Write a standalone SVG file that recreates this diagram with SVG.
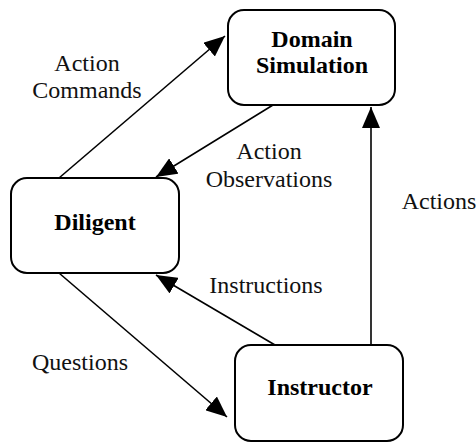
<svg xmlns="http://www.w3.org/2000/svg" width="476" height="443" viewBox="0 0 476 443">
  <style>
    .box { fill: #fff; stroke: #000; stroke-width: 2; }
    .node-label { font-family: 'Liberation Serif', Tinos, 'Times New Roman', serif; font-weight: bold; font-size: 24px; text-anchor: middle; fill: #000; }
    .edge { stroke: #000; stroke-width: 1.6; fill: none; marker-end: url(#arrow); }
    .edge-label { font-family: 'Liberation Serif', Tinos, 'Times New Roman', serif; font-size: 24px; text-anchor: middle; fill: #111; }
  </style>
  <defs>
    <marker id="arrow" viewBox="0 0 21 18" refX="21" refY="9" markerWidth="21" markerHeight="18" markerUnits="userSpaceOnUse" orient="auto">
      <path d="M0,0 L21,9 L0,18 Z" fill="#000"/>
    </marker>
  </defs>

  <rect width="476" height="443" fill="#fff"/>

  <!-- connectors -->
  <g id="connectors">
    <line class="edge" x1="59" y1="178" x2="225" y2="36"/>
    <line class="edge" x1="273" y1="105" x2="156" y2="177"/>
    <line class="edge" x1="371" y1="345" x2="371" y2="107"/>
    <line class="edge" x1="275" y1="345" x2="156" y2="275"/>
    <line class="edge" x1="59" y1="273" x2="227" y2="417"/>
    <text class="edge-label" x="87" y="71">Action</text>
    <text class="edge-label" x="87" y="98">Commands</text>
    <text class="edge-label" x="269" y="159">Action</text>
    <text class="edge-label" x="269" y="187">Observations</text>
    <text class="edge-label" x="439" y="209">Actions</text>
    <text class="edge-label" x="266" y="293">Instructions</text>
    <text class="edge-label" x="80" y="370">Questions</text>
  </g>

  <!-- nodes -->
  <g id="domain-simulation">
    <rect class="box" x="228" y="10" width="167" height="95" rx="16"/>
    <text class="node-label" x="312" y="47">Domain</text>
    <text class="node-label" x="312" y="73">Simulation</text>
  </g>
  <g id="diligent">
    <rect class="box" x="11" y="178" width="168" height="95" rx="16"/>
    <text class="node-label" x="95" y="230">Diligent</text>
  </g>
  <g id="instructor">
    <rect class="box" x="235" y="345" width="168" height="96" rx="16"/>
    <text class="node-label" x="320" y="395">Instructor</text>
  </g>
</svg>
